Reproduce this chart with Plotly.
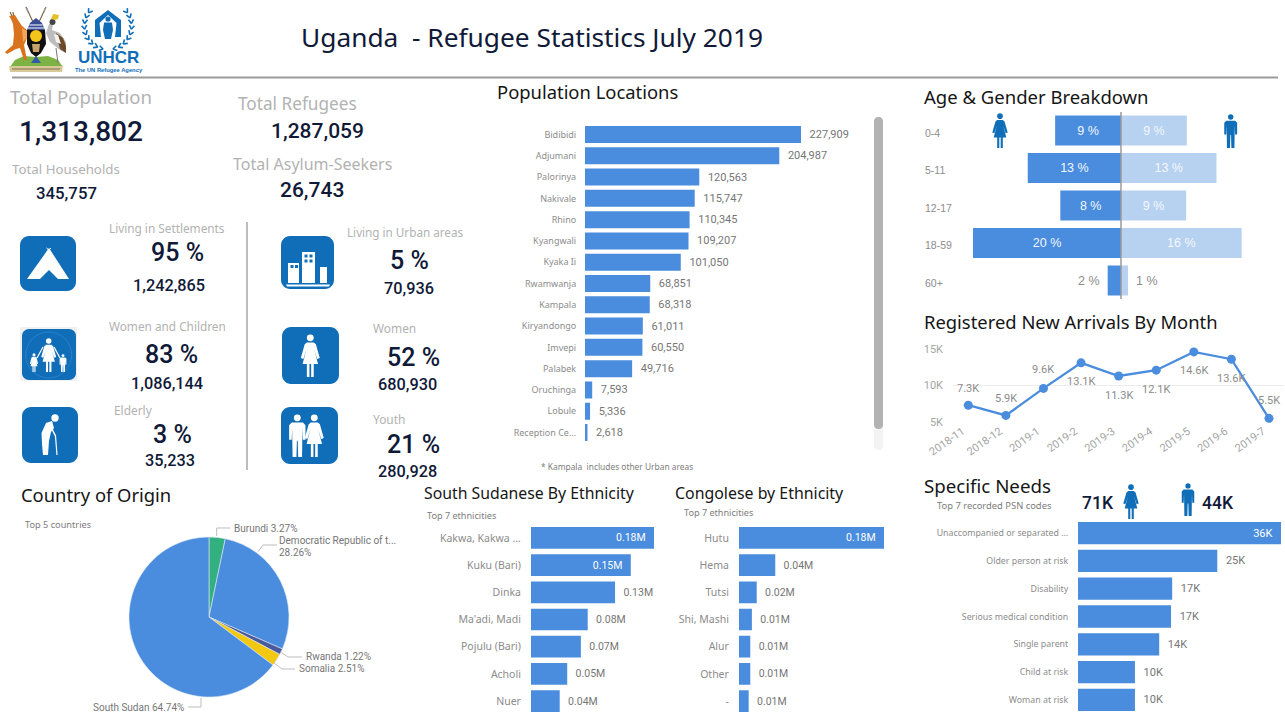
import math
import plotly.graph_objects as go

W, H = 1285, 724

# ---------- data ----------
loc_names = ["Bidibidi", "Adjumani", "Palorinya", "Nakivale", "Rhino", "Kyangwali", "Kyaka Ii", "Rwamwanja",
             "Kampala", "Kiryandongo", "Imvepi", "Palabek", "Oruchinga", "Lobule", "Reception Ce..."]
loc_values = [227909, 204987, 120563, 115747, 110345, 109207, 101050, 68851, 68318, 61011, 60550, 49716, 7593, 5336, 2618]

age_groups = ["0-4", "5-11", "12-17", "18-59", "60+"]
age_female = [8.9, 12.6, 8.2, 20.0, 1.8]
age_male = [8.9, 12.9, 8.8, 16.3, 0.95]
age_female_labels = ["9 %", "13 %", "8 %", "20 %", "2 %"]
age_male_labels = ["9 %", "13 %", "9 %", "16 %", "1 %"]

months = ["2018-11", "2018-12", "2019-1", "2019-2", "2019-3", "2019-4", "2019-5", "2019-6", "2019-7"]
arrivals = [7.3, 5.9, 9.6, 13.1, 11.3, 12.1, 14.6, 13.6, 5.5]
arrival_labels = ["7.3K", "5.9K", "9.6K", "13.1K", "11.3K", "12.1K", "14.6K", "13.6K", "5.5K"]

need_names = ["Unaccompanied or separated ...", "Older person at risk", "Disability", "Serious medical condition",
              "Single parent", "Child at risk", "Woman at risk"]
need_values = [36.0, 24.7, 16.7, 16.5, 14.4, 10.1, 10.1]
need_labels = ["36K", "25K", "17K", "17K", "14K", "10K", "10K"]

ss_names = ["Kakwa, Kakwa ...", "Kuku (Bari)", "Dinka", "Ma'adi, Madi", "Pojulu (Bari)", "Acholi", "Nuer"]
ss_values = [0.18, 0.146, 0.123, 0.083, 0.073, 0.053, 0.042]
ss_labels = ["0.18M", "0.15M", "0.13M", "0.08M", "0.07M", "0.05M", "0.04M"]

cd_names = ["Hutu", "Hema", "Tutsi", "Shi, Mashi", "Alur", "Other", "-"]
cd_values = [0.18, 0.045, 0.022, 0.016, 0.014, 0.014, 0.012]
cd_labels = ["0.18M", "0.04M", "0.02M", "0.01M", "0.01M", "0.01M", "0.01M"]

origin_names = ["Burundi", "Democratic Republic of t...", "Rwanda", "Somalia", "South Sudan"]
origin_values = [3.27, 28.26, 1.22, 2.51, 64.74]
origin_colors = ["#33B07F", "#4A8CDD", "#4A5A9A", "#F2C811", "#4A8CDD"]

# ---------- style ----------
BLUE = "#4A8CDD"
LIGHT = "#B7D1F0"
ICON = "#106EB8"
DARK = "#101A38"
TITLE = "#151515"
GREY = "#B2B2B2"
LBL = "#8C8C8C"
VAL = "#767676"
F_UI = "Noto Sans"
F_NUM = "Roboto"
F_AR = "Liberation Sans"


def dx(a, b):
    return [a / W, b / W]


def dy(top, bot):
    return [1 - bot / H, 1 - top / H]


def px(x):
    return x / W


def py(y):
    return 1 - y / H


annotations = []
shapes = []


def txt(s, x, y, size, color, font=F_UI, anchor="left", weight=None):
    f = dict(size=size, color=color, family=font)
    if weight:
        f["weight"] = weight
    annotations.append(dict(text=s, x=px(x), y=py(y), xref="paper", yref="paper", showarrow=False,
                            xanchor=anchor, yanchor="middle", font=f, align=anchor, borderpad=0))


def poly(pts, color, close=True):
    d = "M" + " L".join(f"{px(a):.5f},{py(b):.5f}" for a, b in pts) + (" Z" if close else "")
    shapes.append(dict(type="path", path=d, xref="paper", yref="paper", fillcolor=color, line=dict(width=0)))


def line(pts, color, width=1.0):
    d = "M" + " L".join(f"{px(a):.5f},{py(b):.5f}" for a, b in pts)
    shapes.append(dict(type="path", path=d, xref="paper", yref="paper", line=dict(color=color, width=width)))


def circle(cx, cy, r, color, outline=None):
    shapes.append(dict(type="circle", xref="paper", yref="paper", x0=px(cx - r), x1=px(cx + r),
                       y0=py(cy + r), y1=py(cy - r), fillcolor=color if not outline else "rgba(0,0,0,0)",
                       line=dict(width=1 if outline else 0, color=outline or color)))


def rrect(x0, y0, x1, y1, r, color):
    k = 0.45 * r
    p = lambda a, b: f"{px(a):.5f},{py(b):.5f}"
    d = (f"M{p(x0 + r, y0)} L{p(x1 - r, y0)} C{p(x1 - k, y0)} {p(x1, y0 + k)} {p(x1, y0 + r)} "
         f"L{p(x1, y1 - r)} C{p(x1, y1 - k)} {p(x1 - k, y1)} {p(x1 - r, y1)} "
         f"L{p(x0 + r, y1)} C{p(x0 + k, y1)} {p(x0, y1 - k)} {p(x0, y1 - r)} "
         f"L{p(x0, y0 + r)} C{p(x0, y0 + k)} {p(x0 + k, y0)} {p(x0 + r, y0)} Z")
    shapes.append(dict(type="path", path=d, xref="paper", yref="paper", fillcolor=color, line=dict(width=0)))


MAN = [(-13, 20), (13, 20), (19, 26), (19, 60), (13, 60), (12, 33), (11, 100), (2, 100), (1, 62), (-1, 62),
       (-2, 100), (-11, 100), (-12, 33), (-13, 60), (-19, 60), (-19, 26)]
WOMAN = [(-8, 20), (8, 20), (13, 24), (22, 56), (16, 58), (9, 36), (18, 70), (8, 70), (8, 100), (2, 100), (2, 70),
         (-2, 70), (-2, 100), (-8, 100), (-8, 70), (-18, 70), (-9, 36), (-16, 58), (-22, 56), (-13, 24)]


def person(cx, top, h, color, shape):
    s = h / 100
    circle(cx, top + 9 * s, 8 * s, color)
    poly([(cx + a * s, top + b * s) for a, b in shape], color)


# ---------- frame lines ----------
line([(12, 77.5), (1278, 77.5)], "#9A9A9A", 2)
line([(247, 222), (247, 470)], "#BDBDBD", 2)

# ---------- Uganda coat of arms ----------
line([(26, 7), (33, 22)], "#7A6A4A", 1.2)
line([(46, 7), (39, 22)], "#7A6A4A", 1.2)
poly([(25, 7), (28, 9), (28, 13)], "#8F8F8F")
poly([(46, 7), (44, 9), (44, 13)], "#8F8F8F")
poly([(15, 60), (24, 56), (36, 57), (48, 56), (58, 60), (63, 67), (10, 67)], "#7CB342")
poly([(9, 66), (63, 66), (62, 72), (10, 72)], "#D9C89A")
line([(12, 69), (60, 69)], "#6B5B3A", 0.8)
line([(10, 12), (12, 16)], "#6B3E14", 1)
line([(13, 12), (13.5, 16)], "#6B3E14", 1)
poly([(9, 16), (15, 15), (18, 20), (22, 26), (27, 30), (27, 38), (24, 45), (27, 60), (24, 60), (20, 48), (16, 49),
      (7, 54), (5, 52), (13, 45), (14, 34), (13, 24), (11, 19)], "#D9731E")
poly([(22, 28), (27, 31), (27, 38), (23, 42)], "#F2A65A")
poly([(27, 30), (45, 30), (46, 44), (41, 53), (36, 57), (31, 53), (27, 44)], "#111111")
poly([(27, 30), (30, 23), (36, 18), (42, 23), (45, 30)], "#3B4C96")
line([(29.5, 25), (42.5, 25)], "#FFFFFF", 1)
line([(28, 28), (44, 28)], "#FFFFFF", 1)
circle(36, 36, 6, "#F5C61A")
poly([(32, 44), (40, 44), (39, 52), (33, 52)], "#C9A36A")
poly([(36, 56), (31, 63), (41, 63)], "#2F5BA8")
poly([(49, 24), (53, 24), (52, 30), (60, 33), (66, 42), (66, 53), (60, 50), (50, 42), (46, 33)], "#BDBDBD")
poly([(56, 33), (63, 38), (66, 46), (66, 53), (60, 49)], "#6E4A2A")
poly([(54, 34), (58, 35), (61, 44), (56, 42)], "#F4F4F4")
circle(52.5, 22, 3, "#444444")
poly([(51, 19), (53, 14), (59, 15), (58, 19), (55, 20)], "#E6C229")
line([(56, 48), (58, 63)], "#777777", 1)

# ---------- UNHCR logo ----------
for side in (-1, 1):
    for i in range(9):
        th = math.radians(12 + i * 14)
        R = 23.5
        cx0 = 108 + side * R * math.sin(th)
        cy0 = 26 + R * math.cos(th)
        tx_, ty_ = side * math.cos(th), -math.sin(th)
        nx_, ny_ = side * math.sin(th), math.cos(th)
        for off in (-1, 1):
            line([(cx0, cy0), (cx0 + 4 * tx_ + off * 2.5 * nx_, cy0 + 4 * ty_ + off * 2.5 * ny_)], ICON, 1.6)
    poly([(108, 10), (108 + side * 13, 20), (108 + side * 13, 37), (108 + side * 7, 37), (108 + side * 8.5, 23), (108, 15)], ICON)
circle(108, 19, 2.6, ICON)
poly([(104, 22.5), (112, 22.5), (113, 30), (111, 39), (105, 39), (103, 30)], ICON)
txt("UNHCR", 108.5, 58, 17, ICON, F_AR, "center", "bold")
txt("The UN Refugee Agency", 108.5, 70.5, 5.8, ICON, F_AR, "center", "bold")

# ---------- KPI icons ----------
rrect(20, 236, 76, 291, 9, ICON)
poly([(49, 248), (69, 279), (58, 279), (49, 270), (40, 279), (27, 279)], "#FFFFFF")
line([(46.5, 248), (51, 252)], "#FFFFFF", 1)
line([(51, 248), (46.5, 252)], "#FFFFFF", 1)

rrect(281, 236, 334, 289, 9, ICON)
poly([(288, 263), (299, 263), (299, 283), (288, 283)], "#FFFFFF")
poly([(302, 252), (315, 252), (315, 283), (302, 283)], "#FFFFFF")
poly([(320, 267), (327, 267), (327, 283), (320, 283)], "#FFFFFF")
poly([(286, 284.5), (330, 284.5), (329, 286.5), (287, 286.5)], "#FFFFFF")
for wx, wy in [(290.5, 265), (295, 265), (304.5, 254.5), (309.5, 254.5), (304.5, 259.5), (309.5, 259.5)]:
    poly([(wx, wy), (wx + 3, wy), (wx + 3, wy + 3), (wx, wy + 3)], ICON)

poly([(20, 327), (77, 327), (77, 381), (20, 381)], "#F1F1F1")
rrect(22, 329, 76, 380, 7, ICON)
circle(48.7, 355, 23, None, outline="#2A7FC9")
person(48.7, 338, 34, "#FFFFFF", WOMAN)
person(34, 353, 19, "#FFFFFF", WOMAN)
person(63, 354, 18, "#FFFFFF", MAN)
line([(43, 347), (37, 358)], "#FFFFFF", 1.2)
line([(54, 347), (60, 358)], "#FFFFFF", 1.2)

rrect(282, 327, 339, 384, 9, ICON)
person(310.3, 334, 43, "#FFFFFF", WOMAN)

rrect(22, 407, 78, 463, 9, ICON)
circle(55, 418, 3.7, "#FFFFFF")
poly([(52, 421), (46, 423), (41.5, 433), (42, 444), (43, 455), (48, 455), (49, 441), (51, 432), (54, 428)], "#FFFFFF")
line([(50, 425), (55.5, 436)], "#FFFFFF", 1.5)
line([(55.5, 436), (57, 455)], "#FFFFFF", 1.2)

rrect(281, 407, 338, 464, 9, ICON)
person(297.3, 414, 43, "#FFFFFF", MAN)
person(314.3, 414, 43, "#FFFFFF", WOMAN)

# ---------- people markers by charts ----------
person(1000, 113, 35, ICON, WOMAN)
person(1230.7, 114, 34, ICON, MAN)
person(1131, 484, 35, ICON, WOMAN)
person(1188, 483, 33, ICON, MAN)

# ---------- scrollbar ----------
rrect(874, 117, 883, 450, 4, "#F3F3F3")
rrect(874, 117, 883, 429, 4, "#B3B3B3")

# ---------- headline texts ----------
txt("Uganda  - Refugee Statistics July 2019", 299.5, 37, 26.3, DARK)

for s, x, y, size in [("Total Population", 9, 97, 18.6), ("Total Refugees", 237, 103, 17.2),
                      ("Total Households", 11, 169, 13.3), ("Total Asylum-Seekers", 232, 164, 16),
                      ("Living in Settlements", 108, 228, 11.8), ("Living in Urban areas", 346, 232, 11.7),
                      ("Women and Children", 108, 326, 11.8), ("Women", 372, 328, 11.9),
                      ("Elderly", 113, 410, 11.9), ("Youth", 372, 419, 11.9)]:
    txt(s, x, y, size, GREY)

for s, x, y, size in [("1,313,802", 81, 132, 28), ("1,287,059", 317, 131, 21), ("345,757", 66, 193, 16.8),
                      ("26,743", 312, 190, 21), ("95 %", 177, 252, 25), ("1,242,865", 168.5, 285, 16.3),
                      ("5 %", 410, 261, 25), ("70,936", 409, 288, 16.3), ("83 %", 171.5, 354, 25),
                      ("1,086,144", 167, 383, 16.3), ("52 %", 413.5, 357, 25), ("680,930", 407, 385, 16.3),
                      ("3 %", 172.5, 434, 25), ("35,233", 170, 460, 16.3), ("21 %", 413, 445, 25),
                      ("280,928", 407, 471, 16.3), ("71K", 1098, 503, 17.5), ("44K", 1218, 503, 17.5)]:
    txt(s, x, y, size, DARK, F_NUM, "center", 500)

for s, x, y, size in [("Population Locations", 496, 91, 18.4), ("Age & Gender Breakdown", 923, 97, 18.5),
                      ("Registered New Arrivals By Month", 923, 322, 18.4), ("Country of Origin", 20, 495, 18.4),
                      ("South Sudanese By Ethnicity", 423, 493, 15.8), ("Congolese by Ethnicity", 674, 493, 15.9),
                      ("Specific Needs", 923, 485, 18.7)]:
    txt(s, x, y, size, TITLE)

for s, x, y, size in [("Top 5 countries", 24, 524, 9.2), ("Top 7 ethnicities", 426, 515, 9.1),
                      ("Top 7 ethnicities", 683, 512, 9.1), ("Top 7 recorded PSN codes", 936, 505, 9.4),
                      ("* Kampala  includes other Urban areas", 539.5, 466, 8.4)]:
    txt(s, x, y, size, "#7D7D7D")

fig = go.Figure()


# ---------- horizontal bars ----------
def hbar(n, names, values, labels, left, right, scale, top, bot, lab_size, tick_size, inside=(), standoff=7):
    xa, ya = ("x", "y") if n == 1 else (f"x{n}", f"y{n}")
    pos = ["inside" if i in inside else "outside" for i in range(len(values))]
    fig.add_trace(go.Bar(x=values, y=names, orientation="h", xaxis=xa, yaxis=ya, marker=dict(color=BLUE, line_width=0),
                         text=labels, textposition=pos, insidetextanchor="end", constraintext="none",
                         texttemplate="\u2002%{text}\u2002", cliponaxis=False,
                         textfont=dict(family=F_NUM, size=lab_size), outsidetextfont=dict(family=F_NUM, size=lab_size, color=VAL),
                         insidetextfont=dict(family=F_NUM, size=lab_size, color="#FFFFFF"), hoverinfo="skip", showlegend=False))
    kx = "xaxis" if n == 1 else f"xaxis{n}"
    ky = "yaxis" if n == 1 else f"yaxis{n}"
    fig.layout[kx] = dict(domain=dx(left, right), range=[0, (right - left) / scale], visible=False, anchor=ya,
                          fixedrange=True, automargin=False)
    fig.layout[ky] = dict(domain=dy(top, bot), type="category", categoryorder="array", categoryarray=names,
                          range=[len(names) - 0.5, -0.5], anchor=xa, showgrid=False, zeroline=False, showline=False,
                          ticks="outside", ticklen=standoff, tickcolor="rgba(0,0,0,0)", automargin=False,
                          tickfont=dict(family=F_UI, size=tick_size, color=LBL), fixedrange=True)


hbar(1, loc_names, loc_values, [f"{v:,}" for v in loc_values], 585, 870, 216 / 227909, 123.86, 443.14, 11, 9, standoff=6)
hbar(4, need_names, need_values, need_labels, 1078, 1281, 203 / 36, 519.1, 713.9, 11, 8.8, inside=(0,))
hbar(5, ss_names, ss_values, ss_labels, 531, 660, 123 / 0.18, 524.4, 714.6, 10.5, 10.5, inside=(0, 1))
hbar(6, cd_names, cd_values, cd_labels, 739, 884, 145 / 0.18, 524.4, 714.6, 10.5, 10.5, inside=(0,))

# ---------- age & gender ----------
age_scale = 7.4
age_text_f = ["inside", "inside", "inside", "inside", "outside"]
age_tpl = ["%{text}"] * 4 + ["\u2009\u2009%{text}\u2009\u2009"]
for vals, labels, color in [([-v for v in age_female], age_female_labels, BLUE), (age_male, age_male_labels, LIGHT)]:
    fig.add_trace(go.Bar(x=vals, y=age_groups, orientation="h", xaxis="x2", yaxis="y2",
                         marker=dict(color=color, line_width=0), text=labels, textposition=age_text_f,
                         texttemplate=age_tpl, insidetextanchor="middle", constraintext="none", cliponaxis=False,
                         insidetextfont=dict(family=F_AR, size=12.5, color="#F4F8FD"),
                         outsidetextfont=dict(family=F_AR, size=12.5, color=LBL), hoverinfo="skip", showlegend=False))
fig.layout.xaxis2 = dict(domain=dx(973, 1284), range=[-20, (1284 - 1121) / age_scale], visible=False, anchor="y2",
                         fixedrange=True, automargin=False)
fig.layout.yaxis2 = dict(domain=dy(111.75, 299.25), type="category", categoryorder="array", categoryarray=age_groups,
                         range=[4.5, -0.5], anchor="x2", visible=False, fixedrange=True, automargin=False)
for g in age_groups:
    annotations.append(dict(text=g, x=px(923), y=g, xref="paper", yref="y2", yshift=-2, showarrow=False, xanchor="left",
                            font=dict(family=F_AR, size=10.5, color=LBL)))
shapes.append(dict(type="line", xref="x2", yref="paper", x0=0, x1=0, y0=py(299), y1=py(112),
                   line=dict(color="#9A9A9A", width=1.5), layer="above"))

# ---------- arrivals line ----------
fig.add_trace(go.Scatter(x=months, y=arrivals, xaxis="x3", yaxis="y3", mode="lines+markers",
                         line=dict(color=BLUE, width=2.3), marker=dict(color=BLUE, size=9), cliponaxis=False,
                         hoverinfo="skip", showlegend=False))
fig.layout.xaxis3 = dict(domain=dx(953, 1284), type="category", categoryorder="array", categoryarray=months,
                         range=[-0.407, 8.4], anchor="y3", showgrid=False, zeroline=False, showline=False, tickangle=-35,
                         ticks="", ticklabelshift=-6, tickfont=dict(family=F_NUM, size=11, color="#A5A5A5"),
                         fixedrange=True, automargin=False)
fig.layout.yaxis3 = dict(domain=dy(349, 422), range=[5, 15], tickvals=[5, 10, 15], ticktext=["5K", "10K", "15K"],
                         anchor="x3", showgrid=True, gridcolor="#EDEDED", gridwidth=1, zeroline=False, showline=False,
                         ticks="", ticklabelstandoff=9, tickfont=dict(family=F_NUM, size=11, color="#A5A5A5"),
                         fixedrange=True, automargin=False)
label_shift = [17, 17, 19, -19, -19, -19, -19, -19, 18]
for m, v, s, sh in zip(months, arrivals, arrival_labels, label_shift):
    annotations.append(dict(text=s, x=m, y=v, xref="x3", yref="y3", yshift=sh, showarrow=False,
                            font=dict(family=F_NUM, size=11, color=LBL)))

# ---------- pie ----------
fig.add_trace(go.Pie(labels=origin_names, values=origin_values, sort=False, direction="clockwise", rotation=0,
                     marker=dict(colors=origin_colors, line=dict(color="#DDE8F6", width=0.6)), textinfo="none",
                     hoverinfo="skip", showlegend=False, automargin=False,
                     domain=dict(x=dx(129, 289), y=dy(537, 697))))
pie_pos = [(233, 528.7), (278, 540.7), (305, 656.7), (298, 668.7), (92, 707.7)]
for name, val, (x, y) in zip(origin_names, origin_values, pie_pos):
    if name.startswith("Democratic"):
        txt(name, x, y, 10, VAL, F_NUM)
        txt(f"{val:.2f}%", x, y + 12, 10, VAL, F_NUM)
    else:
        txt(f"{name} {val:.2f}%", x, y, 10, VAL, F_NUM)
for pts in [[(216.7, 536), (216.7, 528), (230, 528)], [(258, 551.7), (263, 545), (277, 545)],
            [(281.7, 652.7), (288, 657), (302, 657)], [(274, 663), (282, 669), (295, 669)],
            [(201, 698), (201, 707), (188, 707)]]:
    line(pts, "#BDBDBD", 1)

fig.update_layout(width=W, height=H, margin=dict(l=0, r=0, t=0, b=0, autoexpand=False), paper_bgcolor="#FFFFFF",
                  plot_bgcolor="rgba(0,0,0,0)", barmode="relative", bargap=0.2, showlegend=False,
                  annotations=annotations, shapes=shapes)
fig.write_html("out.html", config=dict(displayModeBar=False),
               post_script="document.body.style.margin='0';document.documentElement.style.overflow='hidden';")
